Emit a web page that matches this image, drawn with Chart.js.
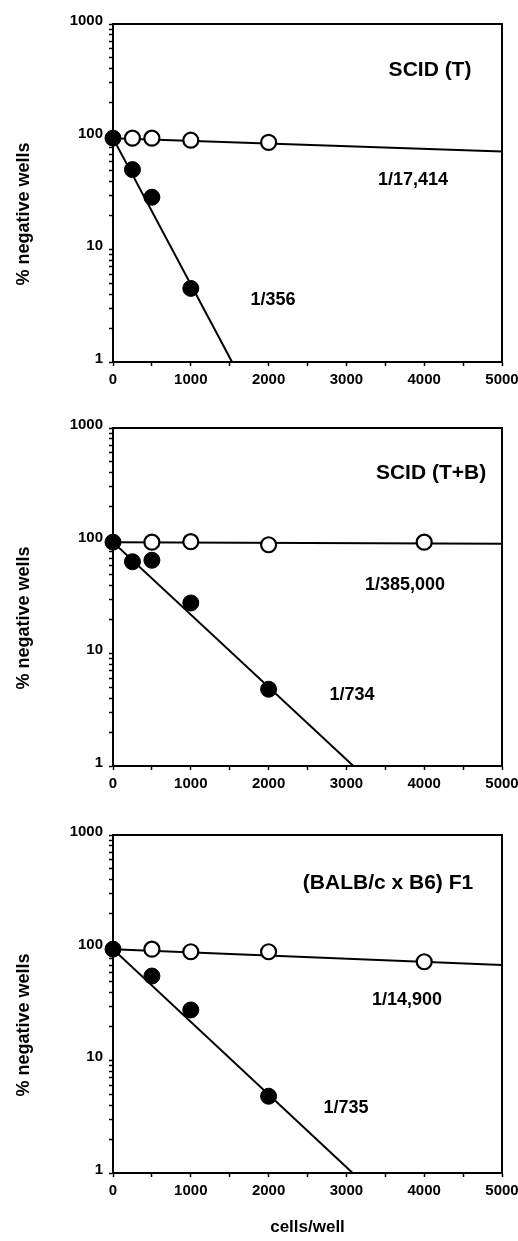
<!DOCTYPE html>
<html><head><meta charset="utf-8">
<script src="https://cdn.jsdelivr.net/npm/chart.js@4.4.0/dist/chart.umd.min.js"></script>
<style>
html,body{margin:0;padding:0;background:#fff;width:518px;height:1241px;overflow:hidden}
.panel{position:absolute;left:0;width:518px}
</style></head><body>
<div class="panel" style="top:0;height:400px"><canvas id="c1"></canvas></div>
<div class="panel" style="top:400px;height:420px"><canvas id="c2"></canvas></div>
<div class="panel" style="top:820px;height:421px"><canvas id="c3"></canvas></div>
<script>
// ---- tick values / labels ----
const xTickValues = [0,500,1000,1500,2000,2500,3000,3500,4000,4500,5000];
const xTickLabels = [0,1000,2000,3000,4000,5000];
const yTickValues = [1,2,3,4,5,6,7,8,9,10,20,30,40,50,60,70,80,90,100,200,300,400,500,600,700,800,900,1000];
const yTickLabels = [1,10,100,1000];
const yAxisTitle = '% negative wells';
const xAxisTitle = 'cells/well';

// ---- panel 1: SCID (T) ----
const p1Title = 'SCID (T)';
const p1FilledX = [0,250,500,1000];
const p1FilledY = [97,51,29,4.5];
const p1OpenX = [250,500,1000,2000];
const p1OpenY = [97,97,93,89];
const p1FitFilledX = [0,1530];
const p1FitFilledY = [97,1];
const p1FitOpenX = [0,5000];
const p1FitOpenY = [97,74];
const p1FilledLabel = '1/356';
const p1OpenLabel = '1/17,414';

// ---- panel 2: SCID (T+B) ----
const p2Title = 'SCID (T+B)';
const p2FilledX = [0,250,500,1000,2000];
const p2FilledY = [97,65,67,28,4.8];
const p2OpenX = [500,1000,2000,4000];
const p2OpenY = [97,98,92,97];
const p2FitFilledX = [0,3090];
const p2FitFilledY = [97,1];
const p2FitOpenX = [0,5000];
const p2FitOpenY = [97,94];
const p2FilledLabel = '1/734';
const p2OpenLabel = '1/385,000';

// ---- panel 3: (BALB/c x B6) F1 ----
const p3Title = '(BALB/c x B6) F1';
const p3FilledX = [0,500,1000,2000];
const p3FilledY = [97,56,28,4.8];
const p3OpenX = [500,1000,2000,4000];
const p3OpenY = [97,92,92,75];
const p3FitFilledX = [0,3080];
const p3FitFilledY = [97,1];
const p3FitOpenX = [0,5000];
const p3FitOpenY = [97,70];
const p3FilledLabel = '1/735';
const p3OpenLabel = '1/14,900';

const FONT = '"Liberation Sans", Arial, Helvetica, sans-serif';
const pts = (xs, ys) => xs.map((x, i) => ({x: x, y: ys[i]}));

const framePlugin = {
  id: 'frame',
  beforeDatasetsDraw(chart) {
    const a = chart.chartArea, ctx = chart.ctx;
    ctx.save();
    ctx.strokeStyle = '#000';
    ctx.lineWidth = 2;
    ctx.strokeRect(a.left, a.top, a.right - a.left, a.bottom - a.top);
    ctx.restore();
  }
};

const notesPlugin = {
  id: 'notes',
  afterDraw(chart, args, opts) {
    const ctx = chart.ctx, xs = chart.scales.x, ys = chart.scales.y;
    ctx.save();
    ctx.fillStyle = '#000';
    ctx.textAlign = 'center';
    ctx.textBaseline = 'middle';
    (opts.items || []).forEach(it => {
      ctx.font = it.font;
      ctx.fillText(it.text, xs.getPixelForValue(it.x), ys.getPixelForValue(it.y));
    });
    if (opts.yTitle) {
      ctx.translate(opts.yTitle.px, chart.chartArea.top + opts.yTitle.dy);
      ctx.rotate(-Math.PI / 2);
      ctx.font = 'bold 18px ' + FONT;
      ctx.fillText(opts.yTitle.text, 0, 0);
    }
    ctx.restore();
  }
};

function makePanel(id, top, bottomSpace, d, showXTitle) {
  const datasets = [
    {data: pts(d.fitFX, d.fitFY), showLine: true, borderColor: '#000', borderWidth: 2, pointRadius: 0, order: 4},
    {data: pts(d.fitOX, d.fitOY), showLine: true, borderColor: '#000', borderWidth: 2, pointRadius: 0, order: 3},
    {data: pts(d.openX, d.openY), showLine: false, pointRadius: 7.5, pointBorderWidth: 2.2, pointBackgroundColor: '#fff', pointBorderColor: '#000', order: 2, clip: false},
    {data: pts(d.fillX, d.fillY), showLine: false, pointRadius: 8, pointBorderWidth: 1, pointBackgroundColor: '#000', pointBorderColor: '#000', order: 1, clip: false}
  ];
  return new Chart(document.getElementById(id), {
    type: 'scatter',
    data: {datasets: datasets},
    plugins: [framePlugin, notesPlugin],
    options: {
      responsive: true,
      maintainAspectRatio: false,
      animation: false,
      events: [],
      layout: {padding: {top: top, right: 16, bottom: 0, left: 0}},
      scales: {
        x: {
          type: 'linear', min: 0, max: 5000,
          afterBuildTicks: s => { s.ticks = xTickValues.map(v => ({value: v})); },
          afterFit: s => { s.height = bottomSpace; s.paddingLeft = 0; s.paddingRight = 0; },
          ticks: {
            autoSkip: false, maxRotation: 0, padding: 5, color: '#000',
            font: {family: FONT, size: 15, weight: 'bold'},
            callback: v => xTickLabels.includes(v) ? String(v) : ''
          },
          grid: {display: true, drawOnChartArea: false, drawTicks: true, tickLength: 4, tickColor: '#000', tickWidth: 1.5},
          border: {display: true, color: '#000', width: 2},
          title: {display: showXTitle, text: xAxisTitle, color: '#000', padding: {top: 0, bottom: 3},
                  font: {family: FONT, size: 17, weight: 'bold'}}
        },
        y: {
          type: 'logarithmic', min: 1, max: 1000,
          afterBuildTicks: s => { s.ticks = yTickValues.map(v => ({value: v})); },
          afterFit: s => { s.width = 113; },
          ticks: {
            autoSkip: false, padding: 6, color: '#000', labelOffset: -3,
            font: {family: FONT, size: 15, weight: 'bold'},
            callback: v => yTickLabels.includes(v) ? String(v) : ''
          },
          grid: {display: true, drawOnChartArea: false, drawTicks: true, tickLength: 4, tickColor: '#000', tickWidth: 1.5},
          border: {display: true, color: '#000', width: 2}
        }
      },
      plugins: {
        legend: {display: false},
        tooltip: {enabled: false},
        notes: {
          items: [
            {text: d.title, x: d.titlePos[0], y: d.titlePos[1], font: 'bold 21px ' + FONT},
            {text: d.openLabel, x: d.openPos[0], y: d.openPos[1], font: 'bold 18px ' + FONT},
            {text: d.fillLabel, x: d.fillPos[0], y: d.fillPos[1], font: 'bold 18px ' + FONT}
          ],
          yTitle: {text: yAxisTitle, px: 24, dy: 190}
        }
      }
    }
  });
}

makePanel('c1', 24, 38, {
  fillX: p1FilledX, fillY: p1FilledY, openX: p1OpenX, openY: p1OpenY,
  fitFX: p1FitFilledX, fitFY: p1FitFilledY, fitOX: p1FitOpenX, fitOY: p1FitOpenY,
  title: p1Title, titlePos: [4075, 389],
  openLabel: p1OpenLabel, openPos: [3856, 41],
  fillLabel: p1FilledLabel, fillPos: [2057, 3.55]
}, false);

makePanel('c2', 28, 54, {
  fillX: p2FilledX, fillY: p2FilledY, openX: p2OpenX, openY: p2OpenY,
  fitFX: p2FitFilledX, fitFY: p2FitFilledY, fitOX: p2FitOpenX, fitOY: p2FitOpenY,
  title: p2Title, titlePos: [4088, 398],
  openLabel: p2OpenLabel, openPos: [3753, 40],
  fillLabel: p2FilledLabel, fillPos: [3072, 4.27]
}, false);

makePanel('c3', 15, 68, {
  fillX: p3FilledX, fillY: p3FilledY, openX: p3OpenX, openY: p3OpenY,
  fitFX: p3FitFilledX, fitFY: p3FitFilledY, fitOX: p3FitOpenX, fitOY: p3FitOpenY,
  title: p3Title, titlePos: [3535, 374],
  openLabel: p3OpenLabel, openPos: [3779, 34],
  fillLabel: p3FilledLabel, fillPos: [2995, 3.78]
}, true);
</script>
</body></html>
